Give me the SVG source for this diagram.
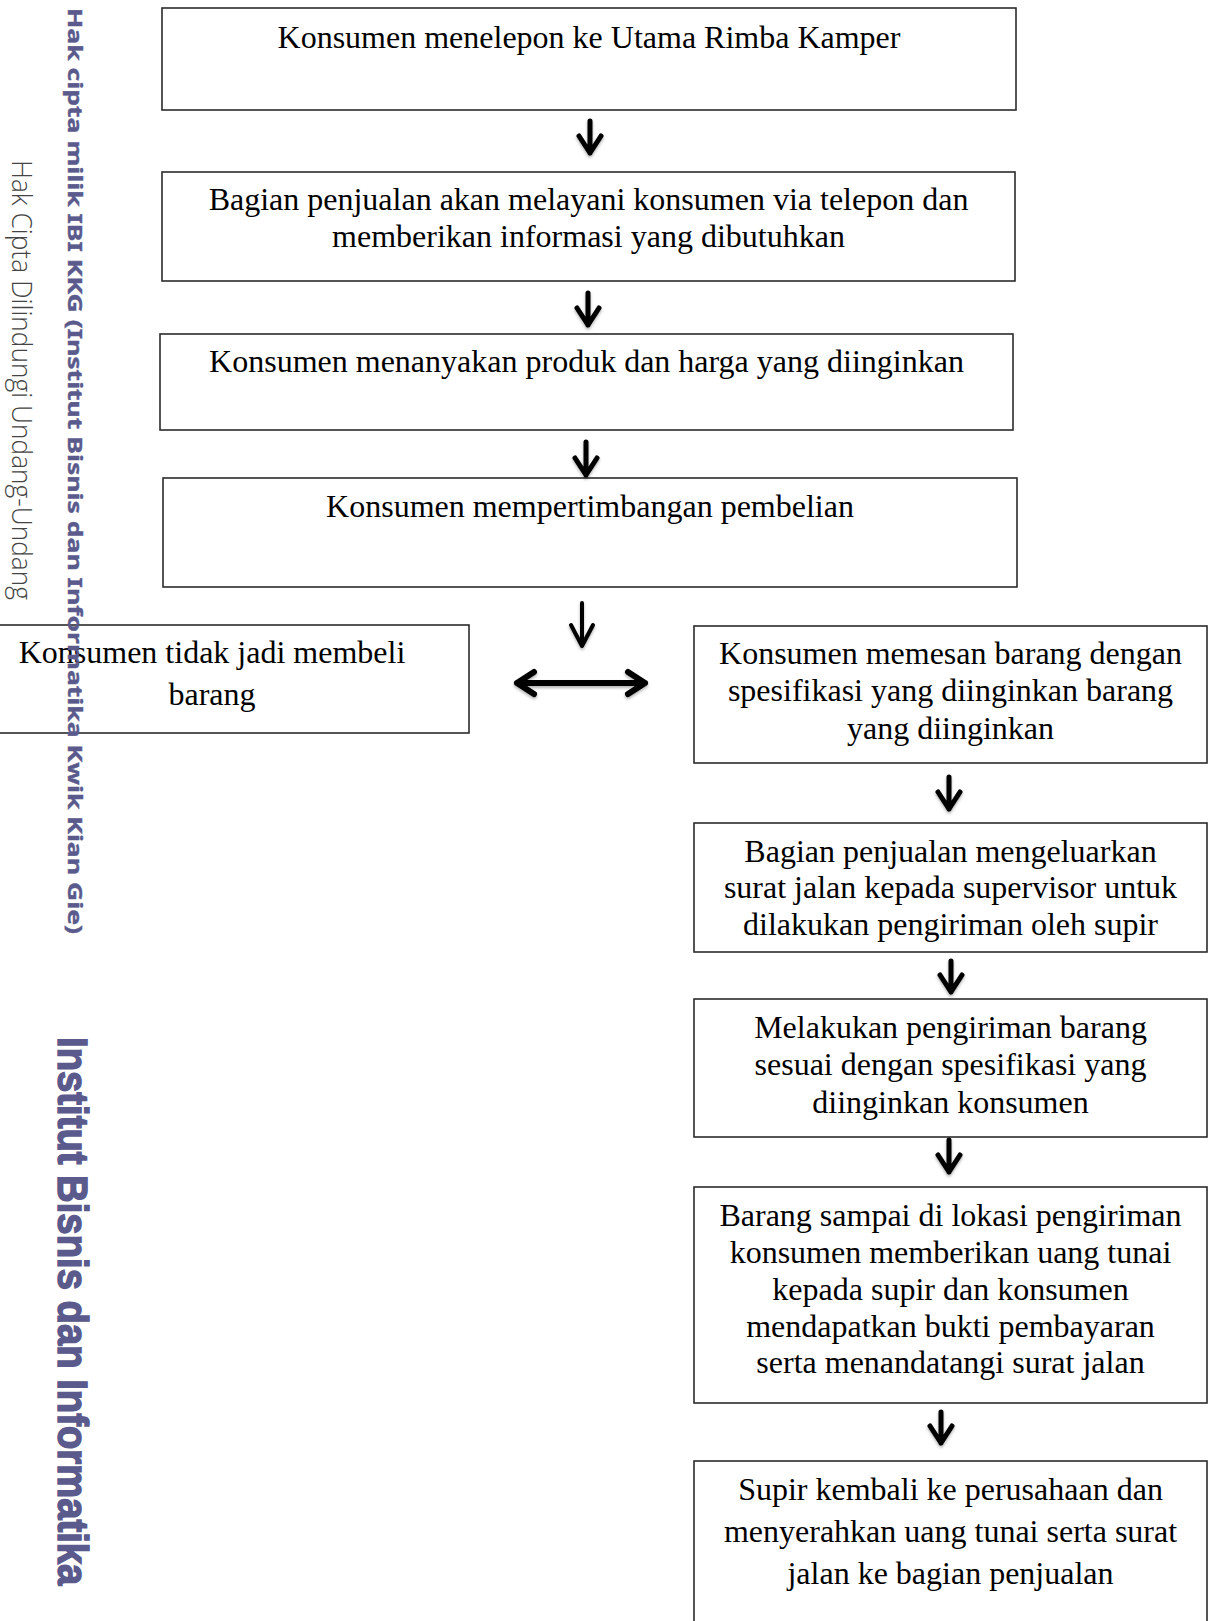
<svg xmlns="http://www.w3.org/2000/svg" width="1211" height="1621" viewBox="0 0 1211 1621">
<style>
.box{fill:#fff;stroke:#2b2b2b;stroke-width:1.6}
.t{font-family:"Liberation Serif","Times New Roman",serif;font-size:32px;fill:#000;text-anchor:middle}
.arr{fill:none;stroke:#000;stroke-width:5;stroke-linecap:round;stroke-linejoin:round;filter:url(#sh)}
.arr2{fill:none;stroke:#000;stroke-width:4;stroke-linecap:round;stroke-linejoin:round;filter:url(#sh)}
.arr3{fill:none;stroke:#000;stroke-width:6;stroke-linecap:round;stroke-linejoin:round;filter:url(#sh)}
.wm{fill:#5a5a8c;stroke:#5a5a8c;font-weight:bold}
</style>
<defs>
<filter id="sh" x="-50%" y="-50%" width="200%" height="200%">
<feDropShadow dx="0" dy="2" stdDeviation="1.5" flood-color="#000" flood-opacity="0.3"/>
</filter>
</defs>
<rect width="1211" height="1621" fill="#fff"/>

<g id="n1"><rect class="box" x="162" y="8" width="854" height="102"/>
<text class="t" x="589" y="48">Konsumen menelepon ke Utama Rimba Kamper</text></g>

<g id="n2"><rect class="box" x="162" y="172" width="853" height="109"/>
<text class="t" x="588.5" y="210">Bagian penjualan akan melayani konsumen via telepon dan</text>
<text class="t" x="588.5" y="247">memberikan informasi yang dibutuhkan</text></g>

<g id="n3"><rect class="box" x="160" y="334" width="853" height="96"/>
<text class="t" x="586.5" y="372">Konsumen menanyakan produk dan harga yang diinginkan</text></g>

<g id="n4"><rect class="box" x="163" y="478" width="854" height="109"/>
<text class="t" x="590" y="517">Konsumen mempertimbangan pembelian</text></g>

<g id="n5"><rect class="box" x="-45" y="625" width="514" height="108"/>
<text class="t" x="212" y="663">Konsumen tidak jadi membeli</text>
<text class="t" x="212" y="705">barang</text></g>

<g id="n6"><rect class="box" x="694" y="626" width="513" height="137"/>
<text class="t" x="950.5" y="664">Konsumen memesan barang dengan</text>
<text class="t" x="950.5" y="701">spesifikasi yang diinginkan barang</text>
<text class="t" x="950.5" y="739">yang diinginkan</text></g>

<g id="n7"><rect class="box" x="694" y="823" width="513" height="129"/>
<text class="t" x="950.5" y="862">Bagian penjualan mengeluarkan</text>
<text class="t" x="950.5" y="898">surat jalan kepada supervisor untuk</text>
<text class="t" x="950.5" y="935">dilakukan pengiriman oleh supir</text></g>

<g id="n8"><rect class="box" x="694" y="999" width="513" height="138"/>
<text class="t" x="950.5" y="1038">Melakukan pengiriman barang</text>
<text class="t" x="950.5" y="1075">sesuai dengan spesifikasi yang</text>
<text class="t" x="950.5" y="1113">diinginkan konsumen</text></g>

<g id="n9"><rect class="box" x="694" y="1187" width="513" height="216"/>
<text class="t" x="950.5" y="1226">Barang sampai di lokasi pengiriman</text>
<text class="t" x="950.5" y="1263">konsumen memberikan uang tunai</text>
<text class="t" x="950.5" y="1300">kepada supir dan konsumen</text>
<text class="t" x="950.5" y="1337">mendapatkan bukti pembayaran</text>
<text class="t" x="950.5" y="1373">serta menandatangi surat jalan</text></g>

<g id="n10"><rect class="box" x="694" y="1461" width="513" height="190"/>
<text class="t" x="950.5" y="1500">Supir kembali ke perusahaan dan</text>
<text class="t" x="950.5" y="1542">menyerahkan uang tunai serta surat</text>
<text class="t" x="950.5" y="1584">jalan ke bagian penjualan</text></g>

<g id="connectors">
<path class="arr" d="M590 121V153M579 136L590 153L601 136"/>
<path class="arr" d="M588 293V325M577 308L588 325L599 308"/>
<path class="arr" d="M586 442V475M575 458L586 475L597 458"/>
<path class="arr2" d="M582 603V646M571 625L582 646L593 625"/>
<path class="arr3" d="M517 683H645M534 672L517 683L534 694M628 672L645 683L628 694"/>
<path class="arr" d="M949 777V809M938 792L949 809L960 792"/>
<path class="arr" d="M951 961V992M940 975L951 992L962 975"/>
<path class="arr" d="M949 1140V1172M938 1155L949 1172L960 1155"/>
<path class="arr" d="M941 1412V1443M930 1426L941 1443L952 1426"/>
</g>

<g id="watermark">
<text transform="translate(12,160) rotate(90)" font-family="'Open Sans','Liberation Sans',sans-serif" font-weight="300" font-size="27" fill="#444" textLength="440" lengthAdjust="spacingAndGlyphs">Hak Cipta Dilindungi Undang-Undang</text>
<text class="wm" stroke-width="0.4" transform="translate(68,8) rotate(90)" font-family="'Noto Sans','Open Sans','Liberation Sans',sans-serif" font-size="20" textLength="926" lengthAdjust="spacingAndGlyphs">Hak cipta milik IBI KKG (Institut Bisnis dan Informatika Kwik Kian Gie)</text>
<text class="wm" stroke-width="1.5" transform="translate(58,1037) rotate(90) scale(0.89,1)" font-family="'Liberation Sans','Arial',sans-serif" font-size="43">Institut Bisnis dan Informatika</text>
</g>
</svg>
